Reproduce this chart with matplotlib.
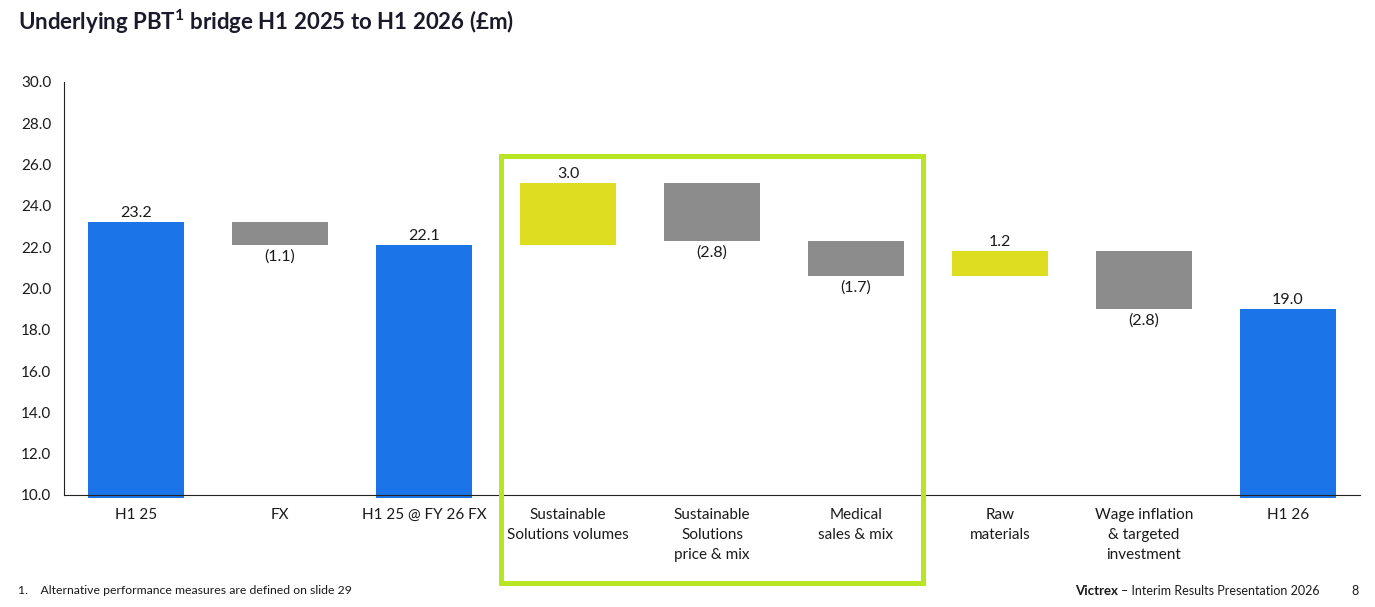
import matplotlib
matplotlib.use("Agg")
import matplotlib.pyplot as plt
from matplotlib.patches import Rectangle

plt.rcParams['font.family'] = ['Lato', 'DejaVu Sans']
plt.rcParams['mathtext.default'] = 'regular'

categories = ["H1 25", "FX", "H1 25 @ FY 26 FX", "Sustainable\nSolutions volumes",
              "Sustainable\nSolutions\nprice & mix", "Medical\nsales & mix",
              "Raw\nmaterials", "Wage inflation\n& targeted\ninvestment", "H1 26"]
values = [23.2, -1.1, 22.1, 3.0, -2.8, -1.7, 1.2, -2.8, 19.0]
kinds = ["total", "delta", "total", "delta", "delta", "delta", "delta", "delta", "total"]
yticks = [10.0, 12.0, 14.0, 16.0, 18.0, 20.0, 22.0, 24.0, 26.0, 28.0, 30.0]

BLUE = "#1b74e8"
GREY = "#8c8c8c"
YELLOW = "#dedd20"
LIME = "#b8e625"
TEXT = "#1a1a1a"
AXIS_MIN = 9.85

W, H = 1375, 607
fig = plt.figure(figsize=(13.75, 6.07), dpi=100)
ax = fig.add_axes([64 / W, 1 - 498 / H, 1296 / W, 416 / H])

running = 0.0
for i, (v, k) in enumerate(zip(values, kinds)):
    if k == "total":
        bottom, top = AXIS_MIN, v
        running = v
        ax.bar(i, top - bottom, bottom=bottom, width=0.67, color=BLUE, zorder=2)
        ax.text(i, top + 0.12, f"{v:.1f}", ha="center", va="bottom", fontsize=11.5, color=TEXT)
    else:
        start = running
        end = running + v
        running = end
        color = YELLOW if v > 0 else GREY
        lo, hi = min(start, end), max(start, end)
        ax.bar(i, hi - lo, bottom=lo, width=0.67, color=color, zorder=2)
        if v > 0:
            ax.text(i, hi + 0.12, f"{v:.1f}", ha="center", va="bottom", fontsize=11.5, color=TEXT)
        else:
            ax.text(i, lo - 0.2, f"({abs(v):.1f})", ha="center", va="top", fontsize=11.5, color=TEXT)

ax.set_xlim(-0.5, len(categories) - 0.5)
ax.set_ylim(AXIS_MIN, 30)
ax.set_yticks(yticks)
ax.set_yticklabels([f"{t:.1f}" for t in yticks], fontsize=11, color=TEXT)
ax.set_xticks(range(len(categories)))
ax.set_xticklabels([])
ax.tick_params(axis="y", length=0, pad=9)
ax.tick_params(axis="x", length=0)

# category labels drawn below the axis line
for i, cat in enumerate(categories):
    ax.annotate(cat, xy=(i, 10), xycoords="data", xytext=(0, -9.5),
                textcoords="offset points", ha="center", va="top",
                fontsize=11, color=TEXT, linespacing=1.55, annotation_clip=False)

for s in ["top", "right"]:
    ax.spines[s].set_visible(False)
ax.spines["bottom"].set_position(("data", 10))
ax.spines["left"].set_bounds(10, 30)
ax.spines["left"].set_color("#222222")
ax.spines["bottom"].set_color("#222222")
ax.spines["left"].set_zorder(3)
ax.spines["bottom"].set_zorder(3)

# highlight box around sustainable solutions & medical
box = Rectangle((501 / W, 1 - 583 / H), (923 - 501) / W, (583 - 156) / H,
                transform=fig.transFigure, fill=False, edgecolor=LIME, linewidth=3.6,
                clip_on=False, zorder=5)
fig.patches.append(box)

fig.text(18 / W, 1 - 22 / H, "Underlying PBT$^{1}$ bridge H1 2025 to H1 2026 (£m)",
         fontsize=16, fontweight="bold", color="#1a1a2a", ha="left", va="center")
fig.text(18 / W, 1 - 591 / H, "1.    Alternative performance measures are defined on slide 29",
         fontsize=8.8, color=TEXT, ha="left", va="center")
fig.text(1118 / W, 1 - 591 / H, "Victrex", fontsize=9.5, fontweight="bold",
         color=TEXT, ha="right", va="center")
fig.text(1320 / W, 1 - 591 / H, "– Interim Results Presentation 2026", fontsize=9,
         color=TEXT, ha="right", va="center")
fig.text(1359 / W, 1 - 591 / H, "8", fontsize=9, color=TEXT, ha="right", va="center")

fig.savefig("out.png", dpi=100)
